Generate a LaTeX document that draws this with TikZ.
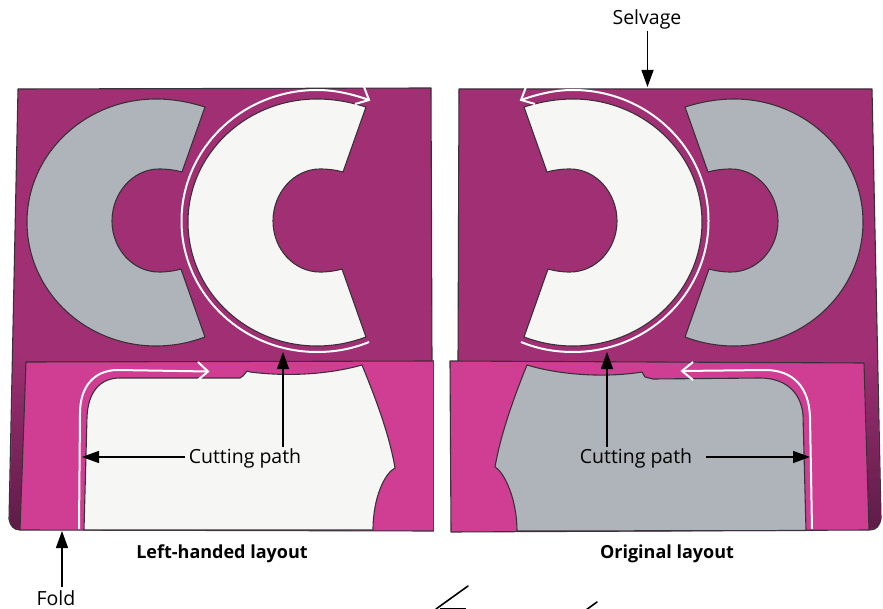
\documentclass[tikz,border=0pt]{standalone}
\usepackage{fontspec}
\setmainfont{Open Sans}
\usetikzlibrary{arrows.meta}
\definecolor{backcol}{HTML}{A02F74}
\definecolor{frontcol}{HTML}{CF3E93}
\definecolor{foldcol}{HTML}{5E1C48}
\definecolor{graycol}{HTML}{AEB4B9}
\definecolor{whitecol}{HTML}{F6F7F4}
\definecolor{edgecol}{HTML}{3A3038}
\tikzset{
  outline/.style={draw=edgecol,line width=1.1pt,line join=round},
  cutline/.style={draw=white,line width=2pt,line join=miter},
  callout/.style={draw=black,line width=1.3pt,-{Triangle[length=17pt,width=12pt]},shorten >=0pt},
  lbl/.style={font=\fontsize{19.5}{22}\selectfont,inner sep=0pt,text=black},
  ttl/.style={font=\fontsize{18}{22}\selectfont\bfseries,inner sep=0pt,text=black}
}
% ring-shaped pattern piece, given in left-hand coordinates
\newcommand{\ringpiece}[2]{%
  \begin{scope}[xshift=#1]
    \path[outline,fill=#2] (366,107)
      .. controls (350,102) and (334,99) .. (317,99)
      .. controls (246,99) and (188,154) .. (188,222)
      .. controls (188,291) and (246,346) .. (317,346)
      .. controls (334,346) and (350,343) .. (366,337)
      -- (342,269)
      .. controls (335,271) and (328,272) .. (320,272)
      .. controls (294,272) and (273,249) .. (273,221)
      .. controls (273,193) and (294,169) .. (320,169)
      .. controls (328,169) and (336,170) .. (343,172)
      -- cycle;
  \end{scope}}
\newcommand{\ringcut}{%
  \path[cutline] (369,342)
      .. controls (352,349) and (335,352) .. (317,352)
      .. controls (242,352) and (181.5,293) .. (181.5,221)
      .. controls (181.5,149) and (242,90) .. (317,90)
      .. controls (335,90) and (352,94) .. (369,100);
  \path[cutline] (364,87) -- (369,100) -- (355,104);}
\begin{document}
\begin{tikzpicture}[x=1pt,y=-1pt]
\useasboundingbox (0,0) rectangle (883,609);
\fill[white] (0,0) rectangle (883,609);
% --- left layout ---
\path[outline,fill=backcol] (18,89) -- (431,88) -- (432,362) -- (26,362) -- (20,530)
   .. controls (14,530) and (10,526) .. (9,519) -- cycle;
\path[top color=backcol,bottom color=foldcol] (14,350) -- (25.5,363) -- (20,529) .. controls (14,529) and (11,526) .. (10,519) -- cycle;
\ringpiece{-161pt}{graycol}
\ringpiece{0pt}{whitecol}
\ringcut
\path[outline,fill=frontcol] (26,362) -- (434,361) -- (434,531) -- (20,530) -- cycle;
\path[fill=white] (434,359) rectangle (440,533);
\path[outline,fill=whitecol] (84,530)
   -- (87,417)
   .. controls (88,392) and (100,378) .. (120,378)
   -- (240,378)
   -- (243,376) -- (247,371) -- (250,372)
   .. controls (290,377) and (330,374) .. (362,365)
   .. controls (373,392) and (389,432) .. (395,468)
   .. controls (385,473) and (373,497) .. (373,530)
   -- cycle;
\path[cutline] (79,529) -- (80,413)
   .. controls (80,388) and (93,370) .. (118,370)
   -- (208,371.5);
\path[cutline] (198,362) -- (208,371.5) -- (198,380);
% --- right layout ---
\path[outline,fill=backcol] (459,89) -- (872,89) -- (881,518)
   .. controls (880,526) and (876,530) .. (870,530) -- (458,362) -- cycle;
\path[top color=backcol,bottom color=foldcol] (865,363) -- (876,350) -- (881,519) .. controls (880,526) and (876,529) .. (869,529) -- cycle;
\begin{scope}[xshift=890pt,xscale=-1]
\ringpiece{-161pt}{graycol}
\ringpiece{0pt}{whitecol}
\ringcut
\end{scope}
\path[outline,fill=frontcol] (450,361) -- (864,363) -- (869,530) -- (451,532) -- cycle;
\path[outline,fill=graycol] (806,530.5)
   -- (803,415)
   .. controls (801,392) and (785,378) .. (760,378)
   -- (653,379)
   -- (645,377) -- (642,372)
   .. controls (605,378) and (560,375) .. (527,365)
   .. controls (516,392) and (501,432) .. (495,467)
   .. controls (505,473) and (517,500) .. (517,531)
   -- cycle;
\path[cutline] (812,529) -- (810,417)
   .. controls (809,387) and (793,370) .. (765,370)
   -- (682,371);
\path[cutline] (693,362) -- (682,371) -- (693,380);
% --- stray pen strokes at the bottom edge ---
\draw[black,line width=1.6pt,line cap=round] (468,586) -- (436,609);
\draw[black,line width=1.6pt] (440,608.5) -- (466,608.5);
\draw[black,line width=1.6pt,line cap=round] (597,602) -- (586,610);
% --- labels and callouts ---
\node[lbl] (selv) at (647,19.5) {Selvage};
\coordinate (selvT) at (647.5,87);
\draw[callout] (selv.south -| selvT) ++(0,2) -- (selvT);
\node[lbl] (cutL) at (245,458.5) {Cutting path};
\coordinate (cutLa) at (283,352);
\coordinate (cutLb) at (82,457);
\draw[callout] (cutL.north -| cutLa) ++(0,-2) -- (cutLa);
\draw[callout] ([xshift=-4pt,yshift=1.5pt]cutL.west) -- (cutLb);
\node[lbl] (cutR) at (636,458.5) {Cutting path};
\coordinate (cutRa) at (607,352);
\coordinate (cutRb) at (810,457);
\draw[callout] (cutR.north -| cutRa) ++(0,-2) -- (cutRa);
\draw[callout] ([xshift=14pt,yshift=1.5pt]cutR.east) -- (cutRb);
\node[lbl] (fold) at (56,598) {Fold};
\coordinate (foldT) at (62,531);
\draw[callout] (fold.north -| foldT) ++(0,-3) -- (foldT);
\node[ttl] (tl) at (222,553.5) {Left-handed layout};
\node[ttl] (tr) at (667,553.5) {Original layout};
\end{tikzpicture}
\end{document}
